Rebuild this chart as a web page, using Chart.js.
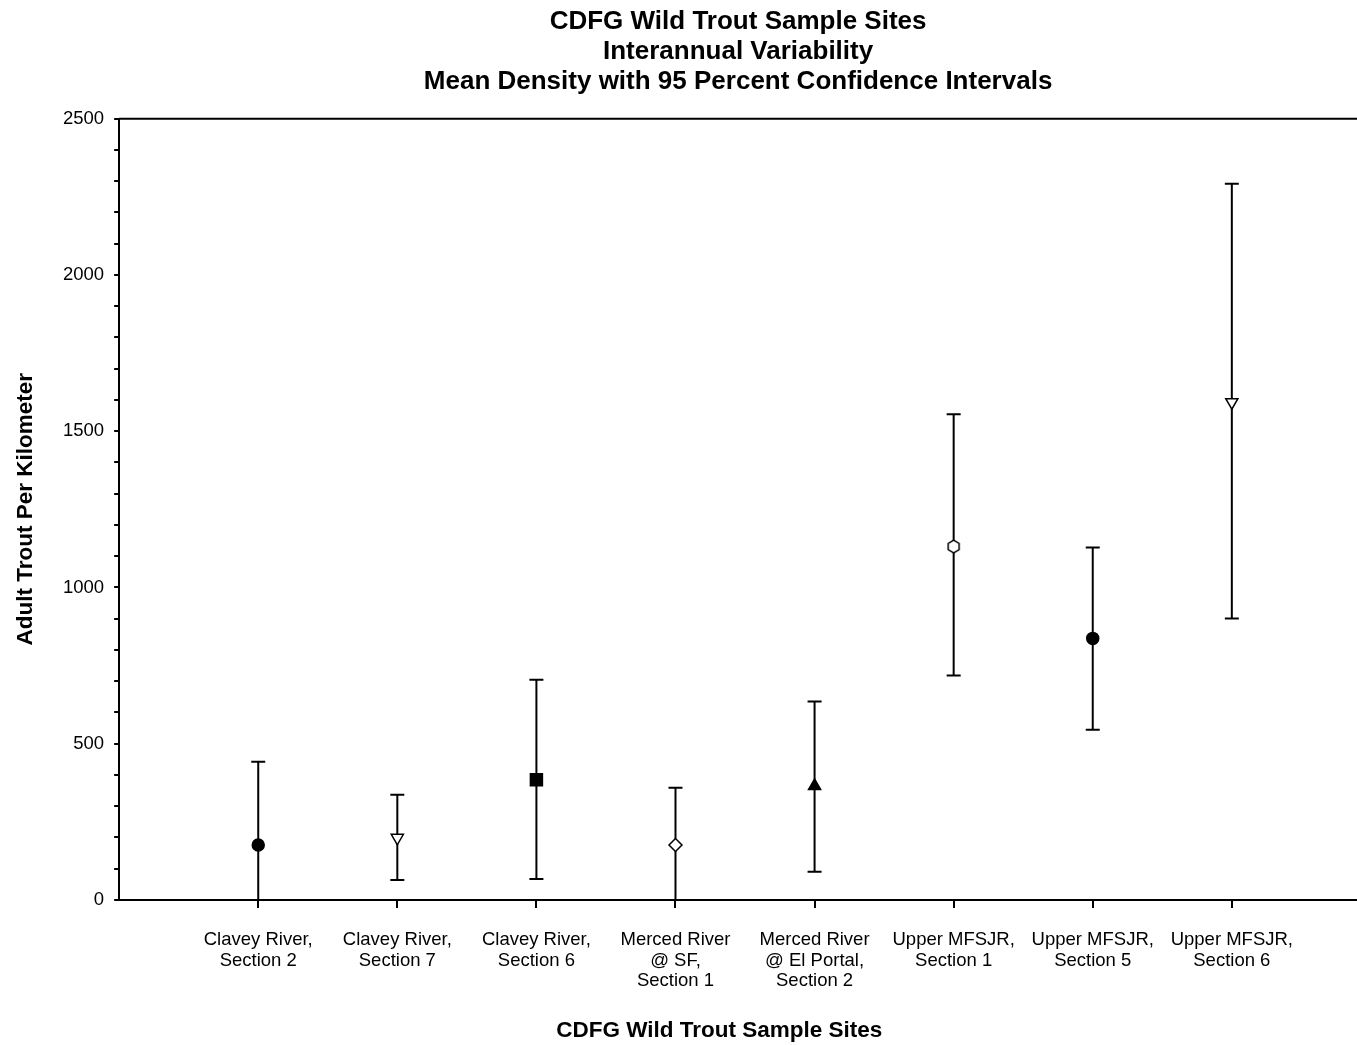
<!DOCTYPE html>
<html>
<head>
<meta charset="utf-8">
<script src="https://cdn.jsdelivr.net/npm/chart.js@4.4.1/dist/chart.umd.min.js"></script>
<style>
  html, body { margin: 0; padding: 0; background: #fff; overflow: hidden; }
  #wrap { width: 1367px; height: 1045px; }
</style>
</head>
<body>
<div id="wrap"><canvas id="c"></canvas></div>
<script>
// sites along the x axis (multi-line labels)
const sites = [
  ["Clavey River,", "Section 2"],
  ["Clavey River,", "Section 7"],
  ["Clavey River,", "Section 6"],
  ["Merced River", "@ SF,", "Section 1"],
  ["Merced River", "@ El Portal,", "Section 2"],
  ["Upper MFSJR,", "Section 1"],
  ["Upper MFSJR,", "Section 5"],
  ["Upper MFSJR,", "Section 6"]
];
// mean density and 95% CI bounds (adult trout / km)
const means = [176, 199, 385, 176, 365, 1131, 837, 1593];
const lower = [-90, 64, 67, -7, 90, 718, 545, 901];
const upper = [442, 337, 705, 359, 635, 1554, 1128, 2292];
const yTicks = [0, 500, 1000, 1500, 2000, 2500];

// hexagon marker (not built in)
function hexagon(size) {
  const cv = document.createElement("canvas");
  cv.width = size; cv.height = size;
  const g = cv.getContext("2d");
  const r = size / 2 - 1.2;
  g.beginPath();
  for (let k = 0; k < 6; k++) {
    const a = Math.PI / 2 + k * Math.PI / 3;
    const px = size / 2 + r * Math.cos(a), py = size / 2 + r * Math.sin(a);
    k ? g.lineTo(px, py) : g.moveTo(px, py);
  }
  g.closePath();
  g.fillStyle = "#fff"; g.fill();
  g.lineWidth = 1.5; g.strokeStyle = "#000"; g.stroke();
  return cv;
}

const styles = ["circle", "triangle", "rect", "rectRot", "triangle", hexagon(15), "circle", "triangle"];
const rotations = [0, 180, 0, 0, 0, 0, 0, 180];
const fills = ["#000", "#fff", "#000", "#fff", "#000", "#fff", "#000", "#fff"];
const radii = [6, 7, 8.5, 6.5, 7, 6, 6, 7];

const FONT = "'Liberation Sans', Arial, sans-serif";

const errorBars = {
  id: "errorBars",
  beforeDatasetsDraw(chart) {
    const { ctx, chartArea, scales } = chart;
    const xs = scales.x, ys = scales.y;
    ctx.save();
    ctx.beginPath();
    ctx.rect(chartArea.left, chartArea.top, chartArea.right - chartArea.left, chartArea.bottom - chartArea.top);
    ctx.clip();
    ctx.strokeStyle = "#000";
    ctx.lineWidth = 2;
    means.forEach((m, i) => {
      const x = xs.getPixelForValue(i + 1);
      const yl = ys.getPixelForValue(lower[i]);
      const yu = ys.getPixelForValue(upper[i]);
      ctx.beginPath();
      ctx.moveTo(x, yl); ctx.lineTo(x, yu);
      ctx.moveTo(x - 7, yu); ctx.lineTo(x + 7, yu);
      ctx.moveTo(x - 7, yl); ctx.lineTo(x + 7, yl);
      ctx.stroke();
    });
    ctx.restore();
  },
  afterDraw(chart) {
    const { ctx, chartArea } = chart;
    ctx.save();
    ctx.strokeStyle = "#000";
    ctx.lineWidth = 2;
    ctx.beginPath();
    ctx.moveTo(chartArea.left, chartArea.top);
    ctx.lineTo(chartArea.right, chartArea.top);
    ctx.stroke();
    ctx.restore();
  }
};

new Chart(document.getElementById("c"), {
  type: "scatter",
  data: {
    datasets: [{
      data: means.map((m, i) => ({ x: i + 1, y: m })),
      pointStyle: styles,
      rotation: rotations,
      backgroundColor: fills,
      borderColor: "#000",
      borderWidth: 1.5,
      pointRadius: radii,
      showLine: false
    }]
  },
  options: {
    responsive: true,
    maintainAspectRatio: false,
    animation: false,
    layout: { padding: { left: 12, right: 0, top: 3, bottom: 1 } },
    plugins: {
      legend: { display: false },
      tooltip: { enabled: false },
      title: {
        display: true,
        fullSize: false,
        text: ["CDFG Wild Trout Sample Sites", "Interannual Variability", "Mean Density with 95 Percent Confidence Intervals"],
        color: "#000",
        font: { family: FONT, size: 26, weight: "bold", lineHeight: 1.15 },
        padding: { top: 4, bottom: 22 }
      }
    },
    scales: {
      x: {
        type: "linear",
        min: 0,
        max: 8.9,
        afterBuildTicks(axis) { axis.ticks = sites.map((s, i) => ({ value: i + 1 })); },
        ticks: {
          autoSkip: false,
          maxRotation: 0,
          color: "#000",
          padding: 22,
          font: { family: FONT, size: 18.5, lineHeight: 1.1 },
          callback: v => sites[v - 1]
        },
        grid: { drawOnChartArea: false, drawTicks: true, tickLength: 8, color: "#000", lineWidth: 2 },
        border: { display: true, color: "#000", width: 2 },
        title: {
          display: true,
          text: "CDFG Wild Trout Sample Sites      ",
          color: "#000",
          font: { family: FONT, size: 22.5, weight: "bold" },
          padding: { top: 4, bottom: 0 }
        }
      },
      y: {
        min: 0,
        max: 2500,
        afterBuildTicks(axis) {
          const t = [];
          for (let v = 0; v <= 2500; v += 100) t.push({ value: v });
          axis.ticks = t;
        },
        ticks: {
          color: "#000",
          padding: 10,
          font: { family: FONT, size: 18.5 },
          callback: v => yTicks.includes(v) ? String(v) : ""
        },
        grid: { drawOnChartArea: false, drawTicks: true, tickLength: 5, color: "#000", lineWidth: 2 },
        border: { display: true, color: "#000", width: 2 },
        title: {
          display: true,
          text: "Adult Trout Per Kilometer",
          color: "#000",
          font: { family: FONT, size: 22.5, weight: "bold" },
          padding: { top: 0, bottom: 14 }
        }
      }
    }
  },
  plugins: [errorBars]
});
</script>
</body>
</html>
